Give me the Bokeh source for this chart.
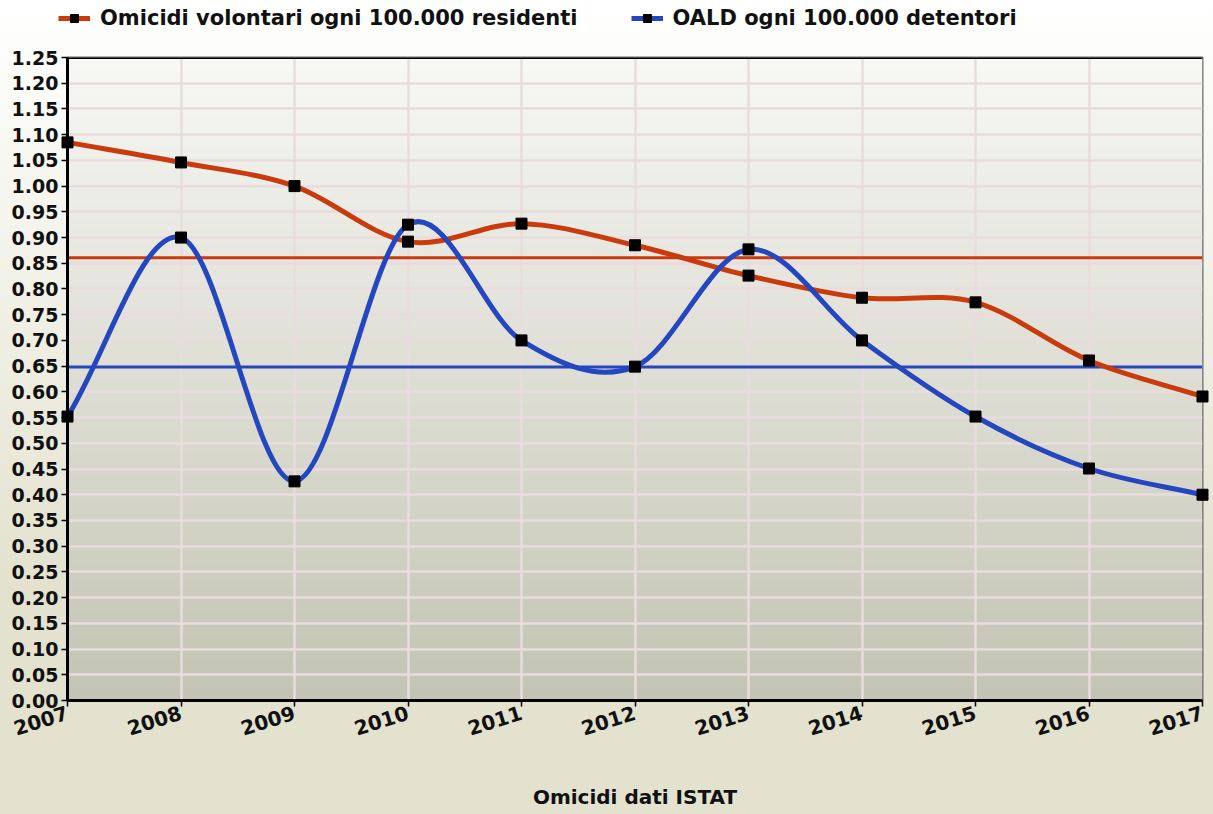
import numpy as np
from bokeh.plotting import figure
from bokeh.layouts import column
from bokeh.models import (Range1d, FixedTicker, Span, Legend, LegendItem,
                          CustomJSTickFormatter, ColumnDataSource)
from bokeh.embed import file_html
from bokeh.resources import INLINE

# ---------------- data ----------------
years = [2007, 2008, 2009, 2010, 2011, 2012, 2013, 2014, 2015, 2016, 2017]
omicidi = [1.085, 1.046, 1.000, 0.892, 0.927, 0.885, 0.826, 0.783, 0.774, 0.661, 0.591]
oald = [0.552, 0.900, 0.426, 0.925, 0.700, 0.649, 0.877, 0.700, 0.552, 0.451, 0.400]
label_omicidi = "Omicidi volontari ogni 100.000 residenti"
label_oald = "OALD ogni 100.000 detentori"
x_title = "Omicidi dati ISTAT"
y_ticks = [round(i * 0.05, 2) for i in range(26)]

RED = "#C93A0C"
BLUE = "#2447C0"
FONT = "DejaVu Sans"

p = figure(frame_width=1135, frame_height=643, output_backend="svg", toolbar_location=None,
           title=None, x_range=Range1d(years[0], years[-1]), y_range=Range1d(0, 1.25),
           min_border_left=67, min_border_right=11, min_border_top=10,
           min_border_bottom=114)
p.border_fill_color = None
p.background_fill_color = None
p.outline_line_color = "#6a6a6a"
p.outline_line_width = 2

# plot-area gradient background
n = 256
t = np.linspace(0, 1, n)  # 0 bottom -> 1 top
bot = np.array([196, 196, 180]); top = np.array([248, 248, 245])
cols = (bot[None, :] * (1 - t[:, None]) + top[None, :] * t[:, None]).astype(np.uint8)
img = np.empty((n, 1, 4), dtype=np.uint8)
img[:, 0, :3] = cols
img[:, 0, 3] = 255
img32 = img.view(np.uint32).reshape(n, 1)
bg = p.image_rgba(image=[img32], x=years[0], y=0, dw=years[-1] - years[0], dh=1.25)
bg.level = "image"

# grid
for g in (p.xgrid, p.ygrid):
    g.grid_line_color = "#E9DCDE"
    g.grid_line_width = 2.5
p.xgrid.ticker = FixedTicker(ticks=years)
p.ygrid.ticker = FixedTicker(ticks=y_ticks)

# axes
p.xaxis.ticker = FixedTicker(ticks=years)
p.yaxis.ticker = FixedTicker(ticks=y_ticks)
p.yaxis.formatter = CustomJSTickFormatter(code="return tick.toFixed(2);")
p.xaxis.formatter = CustomJSTickFormatter(code="return tick.toFixed(0);")
for ax in (p.xaxis[0], p.yaxis[0]):
    ax.axis_line_color = "black"
    ax.axis_line_width = 3
    ax.major_tick_line_color = "black"
    ax.major_tick_line_width = 1.5
    ax.major_tick_out = 6
    ax.major_tick_in = 0
    ax.minor_tick_line_color = None
    ax.major_label_text_font = FONT
    ax.major_label_text_font_style = "bold"
    ax.major_label_text_color = "#111111"
p.yaxis.major_label_text_font_size = "19px"
p.yaxis.major_label_standoff = 3
p.xaxis.major_label_text_font_size = "20px"
p.xaxis.major_label_orientation = 0.3
p.xaxis.major_label_standoff = 6
p.xaxis.axis_label = x_title
p.xaxis.axis_label_text_font = FONT
p.xaxis.axis_label_text_font_style = "bold"
p.xaxis.axis_label_text_font_size = "20px"
p.xaxis.axis_label_text_color = "#111111"
p.xaxis.axis_label_standoff = 40

# top border
p.add_layout(Span(location=1.25, dimension="width", line_color="black", line_width=3))

# mean lines
mean_om = float(np.mean(omicidi))
mean_oa = float(np.mean(oald))
s1 = Span(location=mean_om, dimension="width", line_color=RED, line_width=3, level="underlay")
s2 = Span(location=mean_oa, dimension="width", line_color=BLUE, line_width=3, level="underlay")
p.add_layout(s1)
p.add_layout(s2)


def catmull_bezier(xs, ys):
    x = np.asarray(xs, float); y = np.asarray(ys, float)
    nn = len(x)
    xp = np.concatenate([[2 * x[0] - x[1]], x, [2 * x[-1] - x[-2]]])
    yp = np.concatenate([[2 * y[0] - y[1]], y, [2 * y[-1] - y[-2]]])
    cx0 = xp[1:nn] + (xp[2:nn + 1] - xp[0:nn - 1]) / 6
    cy0 = yp[1:nn] + (yp[2:nn + 1] - yp[0:nn - 1]) / 6
    cx1 = xp[2:nn + 1] - (xp[3:nn + 2] - xp[1:nn]) / 6
    cy1 = yp[2:nn + 1] - (yp[3:nn + 2] - yp[1:nn]) / 6
    return dict(x0=x[:-1], y0=y[:-1], x1=x[1:], y1=y[1:],
                cx0=cx0, cy0=cy0, cx1=cx1, cy1=cy1)


for ys, col in ((omicidi, RED), (oald, BLUE)):
    src = ColumnDataSource(catmull_bezier(years, ys))
    p.bezier(x0="x0", y0="y0", x1="x1", y1="y1", cx0="cx0", cy0="cy0",
             cx1="cx1", cy1="cy1", source=src, line_color=col, line_width=5)
    rm = p.scatter(years, ys, marker="square", size=11, color="black")
    rm.level = "overlay"

# ---------------- legend strip ----------------
leg = figure(width=1213, height=47, output_backend="svg", toolbar_location=None,
             title=None, x_axis_type=None, y_axis_type=None,
             x_range=Range1d(0, 1), y_range=Range1d(0, 1), min_border=0)
leg.frame_align = False
leg.border_fill_color = None
leg.background_fill_color = None
leg.outline_line_color = None
items = []
nan = float("nan")
for col, lab in ((RED, label_omicidi), (BLUE, label_oald)):
    rl = leg.line(x=[nan, nan], y=[nan, nan], line_color=col, line_width=5)
    rs = leg.scatter(x=[nan], y=[nan], marker="square", size=11, color="black")
    items.append(LegendItem(label=lab, renderers=[rl, rs]))

legend = Legend(items=items, orientation="horizontal", location=(58, 17),
                padding=0, margin=0, spacing=53, glyph_width=32, glyph_height=20,
                label_height=20, label_standoff=10, background_fill_alpha=0,
                border_line_color=None, label_text_font=FONT,
                label_text_font_style="bold", label_text_font_size="21px",
                label_text_color="#111111")
leg.add_layout(legend)

lay = column(leg, p, spacing=0)
lay.styles = {"background": "linear-gradient(180deg, #ffffff 0%, #fdfdfb 6%, #e3e2cf 72%, #e3e2cf 100%)"}

open("out.html", "w").write(file_html(lay, INLINE))
